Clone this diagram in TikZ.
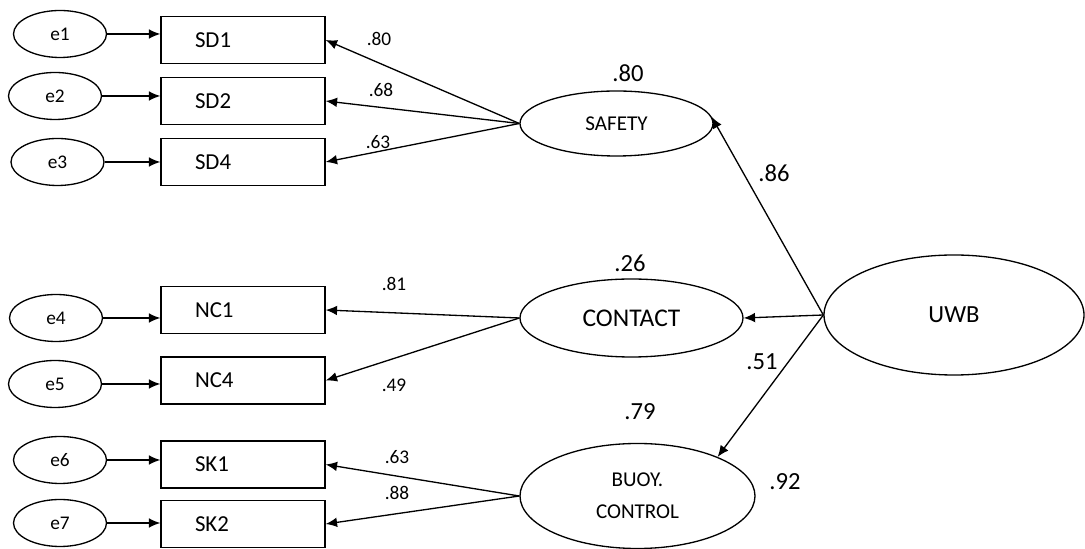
\documentclass[tikz,border=0pt]{standalone}
\usepackage{fontspec}
\setmainfont{Carlito}
\usetikzlibrary{shapes.geometric,arrows.meta}
\begin{document}
\begin{tikzpicture}[
	    err/.style={draw,ellipse,minimum width=1.86cm,minimum height=.94cm,inner sep=0pt,font=\fontsize{11}{13}\selectfont},
	    obs/.style={draw,rectangle,minimum height=.94cm,text width=1.92cm,inner xsep=.68cm,inner ysep=0pt,align=left,font=\fontsize{13}{15}\selectfont},
	    lat/.style={draw,ellipse,inner sep=0pt,align=center},
	    wt/.style={inner sep=0pt,font=\fontsize{11}{13}\selectfont},
	    big/.style={inner sep=0pt,font=\fontsize{14}{16}\selectfont},
	    path/.style={line width=.75pt,-{Latex[length=6.5pt,width=5.5pt]}},
	    every path/.style={line width=.75pt}]
	    \useasboundingbox (0,0) rectangle (21.7,-10.98);
	    \node[err] (e1) at (1.20,-.68) {e1};
	    \node[err] (e2) at (1.10,-1.92) {e2};
	    \node[err] (e3) at (1.15,-3.24) {e3};
	    \node[err] (e4) at (1.12,-6.36) {e4};
	    \node[err] (e5) at (1.10,-7.68) {e5};
	    \node[err] (e6) at (1.20,-9.20) {e6};
	    \node[err] (e7) at (1.20,-10.46) {e7};
	    \node[obs] (SD1) at (4.86,-.80) {SD1};
	    \node[obs] (SD2) at (4.86,-2.02) {SD2};
	    \node[obs] (SD4) at (4.86,-3.24) {SD4};
	    \node[obs] (NC1) at (4.86,-6.20) {NC1};
	    \node[obs] (NC4) at (4.86,-7.61) {NC4};
	    \node[obs] (SK1) at (4.86,-9.29) {SK1};
	    \node[obs] (SK2) at (4.86,-10.48) {SK2};
	    \node[lat,minimum width=3.86cm,minimum height=1.30cm,font=\fontsize{12}{14}\selectfont] (safety) at (12.33,-2.47) {SAFETY};
	    \node[lat,minimum width=4.46cm,minimum height=1.56cm,font=\fontsize{14.5}{16}\selectfont] (contact) at (12.63,-6.36) {CONTACT};
	    \node[lat,minimum width=4.70cm,minimum height=2.10cm,font=\fontsize{12}{18}\selectfont] (buoy) at (12.75,-9.92) {BUOY.\\CONTROL};
	    \node[lat,minimum width=5.20cm,minimum height=2.40cm,font=\fontsize{14}{16}\selectfont] (uwb) at (19.08,-6.30) {UWB};
	    \foreach \e/\v in {e1/SD1,e2/SD2,e3/SD4,e4/NC1,e5/NC4,e6/SK1,e7/SK2}
	        \draw[path] (\e.east) -- (\e.east -| \v.west);
	    \foreach \v in {SD1,SD2,SD4}
	        \draw[path] (safety.west) -- (\v.east);
	    \foreach \v in {NC1,NC4}
	        \draw[path] (contact.west) -- (\v.east);
	    \foreach \v in {SK1,SK2}
	        \draw[path] (buoy.west) -- (\v.east);
	    \draw[path] (uwb.west) -- (safety.4);
	    \draw[path] (uwb.west) -- (contact.east);
	    \draw[path] (uwb.west) -- (buoy.26);
	    \node[wt] (lSD1) at (7.58,-.78) {.80};
	    \node[wt] (lSD2) at (7.62,-1.80) {.68};
	    \node[wt] (lSD4) at (7.56,-2.84) {.63};
	    \node[wt] (lNC1) at (7.88,-5.68) {.81};
	    \node[wt] (lNC4) at (7.88,-7.70) {.49};
	    \node[wt] (lSK1) at (7.94,-9.14) {.63};
	    \node[wt] (lSK2) at (7.94,-9.86) {.88};
	    \node[big] (rsafety) at (12.56,-1.46) {.80};
	    \node[big] (rcontact) at (12.60,-5.26) {.26};
	    \node[big] (rbuoy) at (12.80,-8.24) {.79};
	    \node[big] (lsafety) at (15.48,-3.46) {.86};
	    \node[big] (lbuoy) at (15.24,-7.24) {.51};
	    \node[big] (luwb) at (15.70,-9.64) {.92};
\end{tikzpicture}
\end{document}
